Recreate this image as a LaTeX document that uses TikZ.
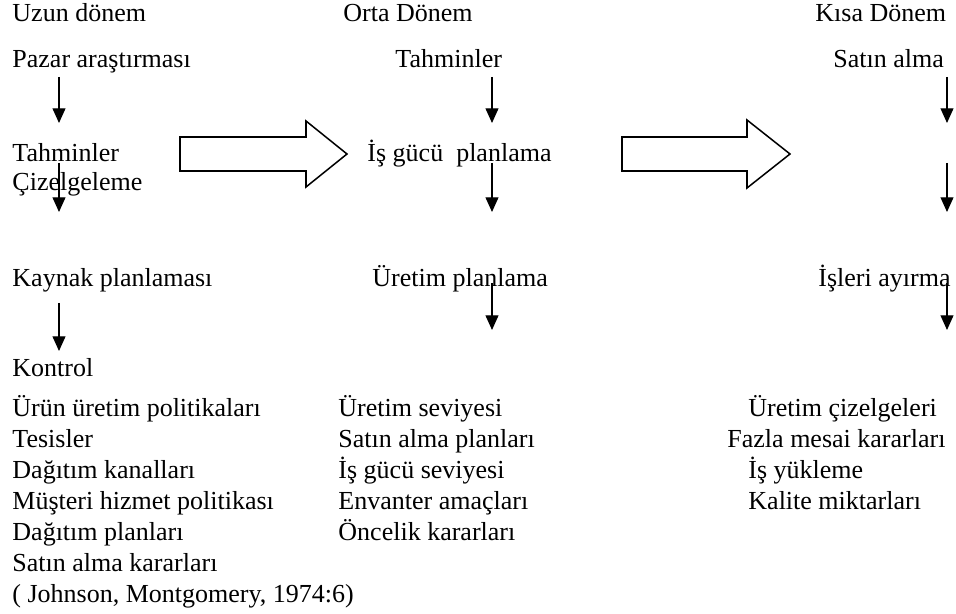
\documentclass[tikz,border=0pt]{standalone}
\usepackage{fontspec}
\setmainfont{Liberation Serif}
\usetikzlibrary{arrows.meta}
\tikzset{
  lbl/.style={anchor=base west, inner sep=0pt, font=\fontsize{12}{14}\selectfont},
  dn/.style={-{Triangle[length=6.8pt, width=6pt]}, line width=0.55pt},
  bigarrow/.style={line width=0.7pt, line join=miter}
}

\begin{document}
\begin{tikzpicture}[x=0.4615pt, y=-0.4615pt]
\useasboundingbox (0,0) rectangle (956,614);

% Basliklar
\node[lbl] (uzun) at (12,22) {Uzun dönem};
\node[lbl] (orta) at (343,22) {Orta Dönem};
\node[lbl] (kisa) at (815,22) {Kısa Dönem};

% Uzun donem
\node[lbl] (pazar) at (12,68) {Pazar araştırması};
\node[lbl] (tahmin) at (12,162) {Tahminler};
\node[lbl] (cizelge) at (12,191) {Çizelgeleme};
\node[lbl] (kaynak) at (12,287) {Kaynak planlaması};
\node[lbl] (kontrol) at (12,377) {Kontrol};

% Orta donem
\node[lbl] (otahmin) at (395,68) {Tahminler};
\node[lbl] (isgucu) at (367,162) {İş gücü\ \ planlama};
\node[lbl] (uretim) at (372,287) {Üretim planlama};

% Kisa donem
\node[lbl] (satin) at (833,68) {Satın alma};
\node[lbl] (isleri) at (818,287) {İşleri ayırma};

% Dikey oklar
\foreach \x/\ya/\yb in {59/77/123, 59/163/212, 59/303/351,
                        492/77/123, 492/163/212, 492/283/330,
                        947/77/123, 947/163/212, 947/283/330}
  \draw[dn] (\x,\ya) -- (\x,\yb);

% Buyuk oklar
\draw[bigarrow] (180,137) -- (306,137) -- (306,121) -- (347,154)
  -- (306,187) -- (306,171) -- (180,171) -- cycle;
\draw[bigarrow] (622,137) -- (747,137) -- (747,120) -- (790,154)
  -- (747,188) -- (747,171) -- (622,171) -- cycle;

% Kararlar
\foreach \t [count=\i] in {Ürün üretim politikaları, Tesisler, Dağıtım kanalları,
    Müşteri hizmet politikası, Dağıtım planları, Satın alma kararları,
    {( Johnson, Montgomery, 1974:6)}}
  \node[lbl] (uzun\i) at (12,{417+31*(\i-1)}) {\t};
\foreach \t [count=\i] in {Üretim seviyesi, Satın alma planları, İş gücü seviyesi,
    Envanter amaçları, Öncelik kararları}
  \node[lbl] (orta\i) at (338,{417+31*(\i-1)}) {\t};
\node[lbl] (kisa1) at (748,417) {Üretim çizelgeleri};
\node[lbl] (kisa2) at (727,448) {Fazla mesai kararları};
\node[lbl] (kisa3) at (748,479) {İş yükleme};
\node[lbl] (kisa4) at (748,510) {Kalite miktarları};

\end{tikzpicture}
\end{document}
